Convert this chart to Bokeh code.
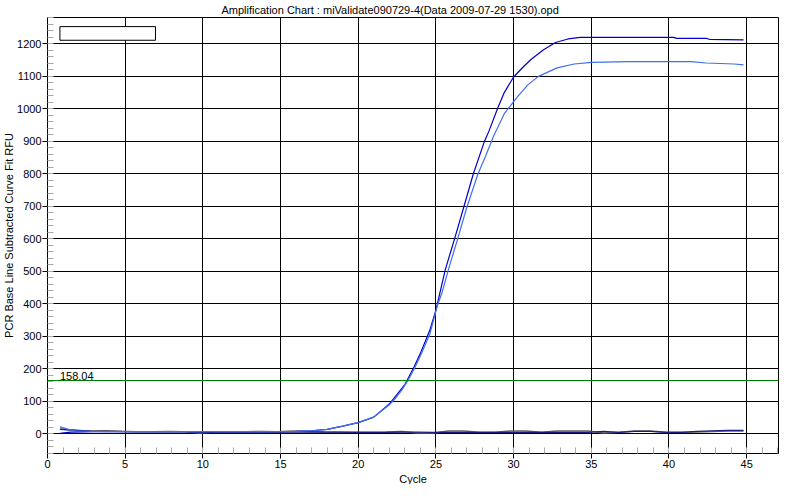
from bokeh.plotting import figure
from bokeh.models import Span, Label, BoxAnnotation, Range1d, SingleIntervalTicker, Title
from bokeh.embed import file_html
from bokeh.resources import INLINE

# ---------------- data ----------------
title_text = "Amplification Chart : miValidate090729-4(Data 2009-07-29 1530).opd"
x_label = "Cycle"
y_label = "PCR Base Line Subtracted Curve Fit RFU"

threshold_text = "158.04"
threshold_level = 164.5

# amplification curve 1 (dark blue)
dark_cycle = [0.8, 1.5, 3, 5, 8, 10, 12, 14, 16, 17, 18, 19, 20, 21, 22, 22.5, 23.0,
              23.6, 24.0, 24.6, 25.0, 25.6, 26.2, 26.8, 27.4, 28.1, 28.4, 29.0, 29.4,
              30.0, 30.6, 31.1, 31.9, 32.7, 33.5, 34.3, 40.3, 40.5, 42.4, 42.6, 44.8]
dark_rfu = [2, 6, 7, 7, 7, 7, 7, 7, 8, 10, 14, 24, 35, 52, 92, 122, 152,
            207, 248, 318, 381, 505, 600, 699, 799, 897, 930, 1005, 1050,
            1098, 1128, 1151, 1181, 1204, 1215, 1220, 1220, 1217, 1217, 1214, 1212]

# amplification curve 2 (light blue)
light_cycle = [0.8, 1.3, 1.8, 2.8, 4, 6, 8, 10, 12, 14, 16, 17, 18, 19, 20, 21, 22,
               22.4, 22.8, 23.2, 23.6, 24.0, 24.6, 25.1, 25.4, 25.8, 26.4, 27.0, 27.7,
               28.2, 28.7, 29.4, 30.0, 30.3, 30.9, 31.6, 32.8, 33.9, 35.0, 37.4, 41.4,
               42.4, 44.2, 44.8]
light_rfu = [22, 15, 10, 8, 7, 7, 7, 7, 7, 7, 8, 10, 14, 24, 35, 52, 90,
             110, 135, 165, 200, 240, 306, 396, 436, 505, 600, 699, 799,
             855, 915, 985, 1022, 1040, 1073, 1100, 1126, 1138, 1143, 1145, 1145,
             1141, 1138, 1135]

# flat (no amplification) traces
base_cycle = [0.8, 1.8, 2.8, 3.8, 4.8, 5.8, 6.8, 7.8, 8.8, 9.8, 10.8, 11.8, 12.8, 13.8,
              14.8, 15.8, 16.8, 17.8, 18.8, 19.8, 20.8, 21.8, 22.8, 23.8, 24.8, 25.8,
              26.8, 27.8, 28.8, 29.8, 30.8, 31.8, 32.8, 33.8, 34.8, 35.8, 36.8, 37.8,
              38.8, 39.8, 40.8, 41.8, 42.8, 43.8, 44.8]
gray_rfu = [15, 11, 9, 10, 8, 7, 7, 8, 7, 3, 6, 7, 7, 8, 7, 9, 8, 6, 5, 5, 5, 6, 8, 3,
            3, 9, 9, 5, 5, 9, 9, 5, 9, 9, 9, 3, 5, 9, 9, 5, 5, 6, 8, 9, 9]
navy_rfu = [14, 12, 9, 8, 8, 7, 7, 7, 7, 6, 6, 6, 6, 6, 6, 6, 6, 6, 6, 5, 5, 5, 6, 6,
            5, 5, 5, 5, 5, 5, 5, 5, 5, 5, 5, 8, 5, 8, 8, 5, 5, 8, 10, 11, 11]

x_start, x_end = 0, 47.05
y_start, y_end = -60, 1281
x_tick_step = 5
y_tick_step = 100

# empty legend box (data coordinates)
legend_box = dict(left=0.8, right=6.95, bottom=1211, top=1253)

FONT = "Liberation Sans"

p = figure(width=784, height=484, output_backend="svg", toolbar_location=None,
           x_range=Range1d(x_start, x_end), y_range=Range1d(y_start, y_end),
           min_border_left=0, min_border_right=6, min_border_top=0,
           min_border_bottom=0, background_fill_color="white",
           border_fill_color="white")

p.title.text = title_text
p.title.text_font = FONT
p.title.text_font_size = "11px"
p.title.text_font_style = "normal"
p.title.text_color = "black"
p.title.align = "left"
p.title.offset = 174
p.title.standoff = 3

p.outline_line_color = "black"
p.outline_line_width = 1
p.outline_line_alpha = 1

for g in (p.xgrid, p.ygrid):
    g.grid_line_color = "black"
    g.grid_line_alpha = 1
    g.grid_line_width = 1

p.xaxis.ticker = SingleIntervalTicker(interval=x_tick_step, num_minor_ticks=5)
p.yaxis.ticker = SingleIntervalTicker(interval=y_tick_step, num_minor_ticks=5)

for ax in (p.xaxis, p.yaxis):
    ax.axis_line_color = "black"
    ax.major_tick_line_color = "black"
    ax.major_tick_in = 0
    ax.major_tick_out = 5
    ax.minor_tick_line_color = "#a8a8a8"
    ax.minor_tick_in = 6
    ax.minor_tick_out = 0
    ax.major_label_text_font = FONT
    ax.major_label_text_font_size = "11px"
    ax.major_label_text_color = "black"
    ax.major_label_standoff = 1

# axis titles as panel titles (tighter than axis labels)
p.add_layout(Title(text=x_label, align="center", text_font=FONT,
                   text_font_size="11px", text_font_style="normal",
                   text_color="black", standoff=0), "below")
p.add_layout(Title(text=y_label, align="center", text_font=FONT,
                   text_font_size="11px", text_font_style="normal",
                   text_color="black", standoff=0), "left")

# traces
p.line(base_cycle, gray_rfu, line_color="#606060", line_width=1.5)
p.line(base_cycle, navy_rfu, line_color="#1c1c80", line_width=1.2)
p.line(dark_cycle, dark_rfu, line_color="#0000c8", line_width=1.2)
p.line(light_cycle, light_rfu, line_color="#3f6ff0", line_width=1.2)

# threshold
p.add_layout(Span(location=threshold_level, dimension="width",
                  line_color="#008000", line_width=1))
p.add_layout(Label(x=legend_box["left"], y=threshold_level, text=threshold_text,
                   y_offset=1, text_baseline="bottom", text_font=FONT,
                   text_font_size="11px", text_color="black"))

# empty legend frame
p.add_layout(BoxAnnotation(fill_color="white", fill_alpha=1, line_color="black",
                           line_width=1, line_alpha=1, **legend_box))

open("out.html", "w").write(file_html(p, INLINE))
